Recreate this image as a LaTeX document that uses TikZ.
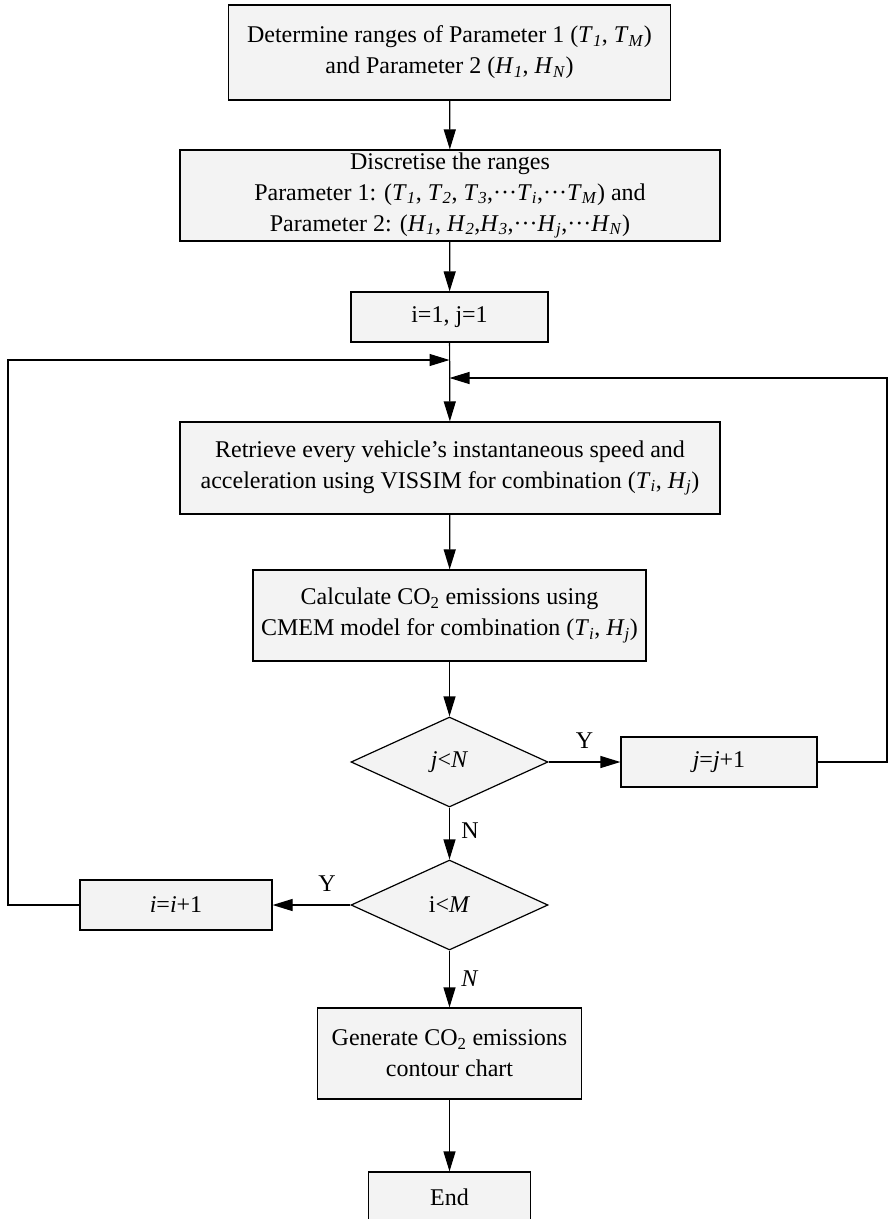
\documentclass[tikz,border=0pt]{standalone}
\usepackage{fontspec}
\setmainfont{Liberation Serif}
\usetikzlibrary{shapes.geometric,arrows.meta}
\definecolor{boxfill}{RGB}{243,243,243}
\newcommand{\pv}[2]{\textit{#1}\textsubscript{\textit{#2}}}
\begin{document}
\begin{tikzpicture}[x=1pt, y=-1pt, line width=1.2pt,
    box/.style={draw, fill=boxfill, inner sep=0pt, align=center,
        font=\fontsize{24}{31}\selectfont},
    cond/.style={draw, diamond, fill=boxfill, inner sep=0pt,
        minimum width=197pt, minimum height=90pt, font=\fontsize{24}{31}\selectfont},
    lab/.style={font=\fontsize{24}{28}\selectfont},
    >={Triangle[length=20pt, width=12pt]}]
            \useasboundingbox (0,0) rectangle (889,1219);
            \draw (449.5, 52.5) node[box, minimum width=442pt, minimum height=95pt] (det)
                {Determine ranges of Parameter 1 (\pv{T}{1}, \pv{T}{M})\\and Parameter 2 (\pv{H}{1}, \pv{H}{N})};
            \draw (450, 195.5) node[box, minimum width=540pt, minimum height=91pt] (disc)
                {Discretise the ranges\\ Parameter 1: (\pv{T}{1}, \pv{T}{2}, \pv{T}{3},···\pv{T}{i},···\pv{T}{M}) and\\Parameter 2: (\pv{H}{1}, \pv{H}{2},\pv{H}{3},···\pv{H}{j},···\pv{H}{N})};
            \draw (449.5, 317) node[box, minimum width=197pt, minimum height=50pt] (init) {i=1, j=1};
            \draw (450, 468) node[box, minimum width=540pt, minimum height=92pt] (retr)
                {Retrieve every vehicle’s instantaneous speed and\\acceleration using VISSIM for combination (\pv{T}{i}, \pv{H}{j})};
            \draw (449.5, 615.5) node[box, minimum width=393pt, minimum height=91pt] (calc)
                {Calculate CO\textsubscript{2} emissions using\\CMEM model for combination (\pv{T}{i}, \pv{H}{j})};
            \draw (449.5, 762) node[cond] (dj) {\textit{j}<\textit{N}};
            \draw (719, 762) node[box, minimum width=196pt, minimum height=50pt] (incj) {\textit{j}=\textit{j}+1};
            \draw (449.5, 905) node[cond] (di) {i<\textit{M}};
            \draw (176, 905) node[box, minimum width=192pt, minimum height=50pt] (inci) {\textit{i}=\textit{i}+1};
            \draw (449.5, 1053.5) node[box, minimum width=264pt, minimum height=91pt] (gen)
                {Generate CO\textsubscript{2} emissions\\contour chart};
            \draw (449.5, 1209) node[box, minimum width=162pt, minimum height=74pt, text depth=24pt] (end) {End};

            \coordinate (lin) at (449.5, 360);
            \coordinate (rin) at (449.5, 378);
            \coordinate (lcorner) at (8, 360);
            \coordinate (rcorner) at (887, 378);

            \draw[->] (det) -- (disc);
            \draw[->] (disc) -- (init);
            \draw[->] (init) -- (retr);
            \draw[->] (retr) -- (calc);
            \draw[->] (calc) -- (dj);
            \draw[->] (dj) -- node[lab, above, pos=0.5, yshift=10pt] {Y} (incj);
            \draw[->] (incj.east) -| (rcorner) -- (rin);
            \draw[->] (dj) -- node[lab, right, pos=0.45, xshift=8pt] {N} (di);
            \draw[->] (di) -- node[lab, above, pos=0.3, yshift=10pt] {Y} (inci);
            \draw[->] (inci.west) -| (lcorner) -- (lin);
            \draw[->] (di) -- node[lab, right, pos=0.5, xshift=8pt] {\textit{N}} (gen);
            \draw[->] (gen) -- (end);
        \end{tikzpicture}
\end{document}
